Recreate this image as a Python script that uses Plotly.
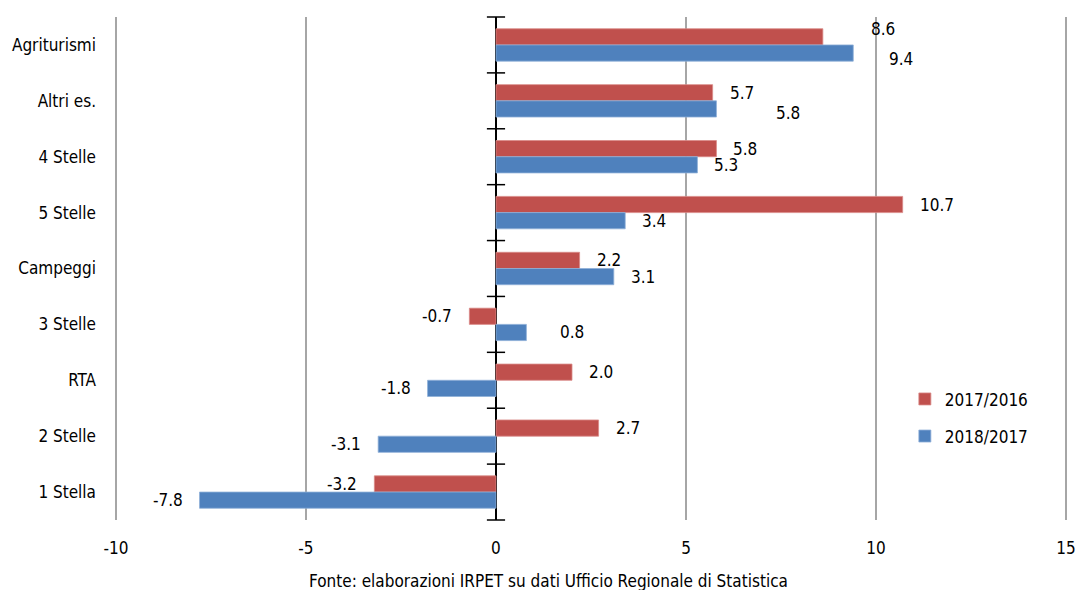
import plotly.graph_objects as go

categories = ["Agriturismi", "Altri es.", "4 Stelle", "5 Stelle", "Campeggi",
              "3 Stelle", "RTA", "2 Stelle", "1 Stella"]
var_2017_2016 = [8.6, 5.7, 5.8, 10.7, 2.2, -0.7, 2.0, 2.7, -3.2]
var_2018_2017 = [9.4, 5.8, 5.3, 3.4, 3.1, 0.8, -1.8, -3.1, -7.8]
x_ticks = [-10, -5, 0, 5, 10, 15]

FONT = "DejaVu Sans Condensed, Liberation Sans, Arial, sans-serif"
FS = 17
RED = "#C0504D"
BLUE = "#4F81BD"
BARGAP = 0.42

positions = list(range(len(categories)))
half = (1 - BARGAP) / 4  # offset of each bar centre from the category centre

fig = go.Figure()
fig.add_trace(go.Bar(y=positions, x=var_2017_2016, orientation="h", name="2017/2016",
                     marker=dict(color=RED, line=dict(color="#D98A88", width=0.8)),
                     legendgroup="a"))
fig.add_trace(go.Bar(y=positions, x=var_2018_2017, orientation="h", name="2018/2017",
                     marker=dict(color=BLUE, line=dict(color="#8FB0D8", width=0.8)),
                     legendgroup="b"))

# small cross ticks on the zero axis at the category boundaries
bounds = [p - 0.5 for p in positions] + [positions[-1] + 0.5]
fig.add_trace(go.Scatter(x=[0] * len(bounds), y=bounds, mode="markers",
                         marker=dict(symbol="line-ew", size=13, line=dict(color="black", width=1.5)),
                         showlegend=False, hoverinfo="skip", cliponaxis=False))

# data labels, some were moved by hand in the original chart
nudges = {("a", 0): (46, 8), ("b", 0): (34, -6), ("b", 1): (58, -4), ("b", 5): (32, 0)}
for key, values, sign in [("a", var_2017_2016, -1), ("b", var_2018_2017, 1)]:
    for i, v in enumerate(values):
        gap, dy = nudges.get((key, i), (15, 0))
        fig.add_annotation(x=v, y=positions[i] + sign * half, text=f"{v:.1f}",
                           showarrow=False, xanchor="left" if v >= 0 else "right",
                           xshift=gap if v >= 0 else -gap, yshift=dy,
                           font=dict(family=FONT, size=FS, color="black"))

fig.add_annotation(text="Fonte: elaborazioni IRPET su dati Ufficio Regionale di Statistica",
                   xref="paper", yref="paper", x=0.455, y=-0.097, xanchor="center", yanchor="top",
                   showarrow=False, font=dict(family=FONT, size=FS, color="black"))

fig.update_xaxes(range=[-10.05, 15.05], tickvals=x_ticks, ticktext=[str(t) for t in x_ticks],
                 showgrid=True, gridcolor="#A6A6A6", gridwidth=1.5,
                 zeroline=True, zerolinecolor="black", zerolinewidth=2,
                 showline=False, ticks="", automargin=False, ticklabelstandoff=16,
                 tickfont=dict(family=FONT, size=FS, color="black"))
fig.update_yaxes(range=[len(categories) - 0.5, -0.5], tickvals=positions, ticktext=categories,
                 showgrid=False, zeroline=False, showline=False, ticks="", automargin=False,
                 ticklabelstandoff=17, tickfont=dict(family=FONT, size=FS, color="black"))

fig.update_layout(width=1077, height=590, barmode="group", bargap=BARGAP, bargroupgap=0,
                  plot_bgcolor="white", paper_bgcolor="white",
                  margin=dict(l=114, r=9, t=17, b=70),
                  legend=dict(x=0.829, y=0.203, xanchor="left", yanchor="middle",
                              tracegroupgap=12, bgcolor="rgba(0,0,0,0)",
                              font=dict(family=FONT, size=FS, color="black")))

# the page body has a default margin that would push the chart off the window
fig.write_html("out.html", config={"displayModeBar": False},
               post_script="document.body.style.margin = '0';")
